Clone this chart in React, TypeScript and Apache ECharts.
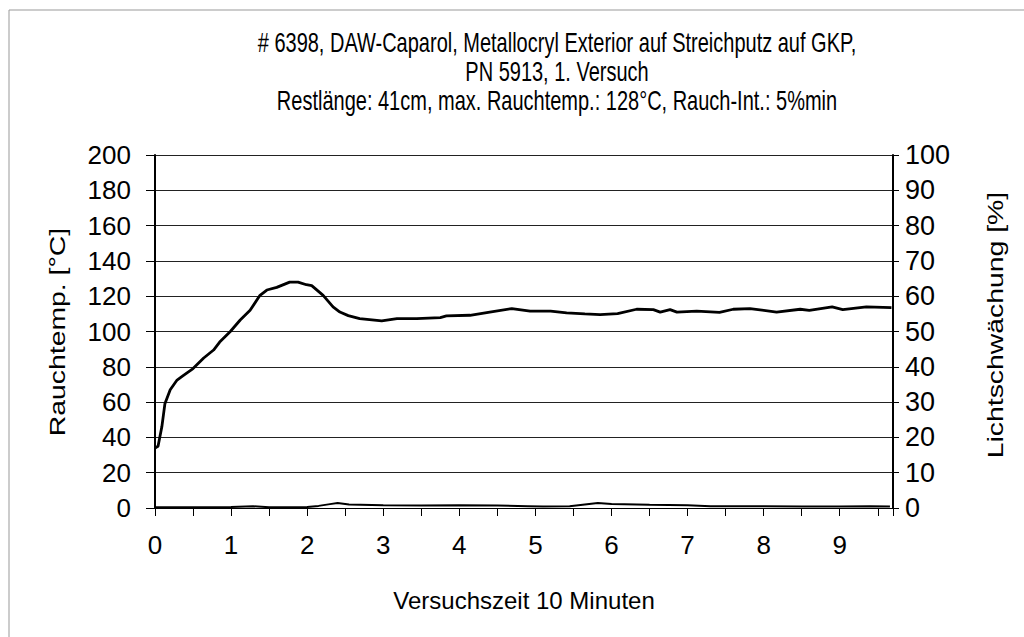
import React, { useEffect, useRef } from "react";
import * as echarts from "echarts";

const titleLines = [
  "# 6398, DAW-Caparol, Metallocryl Exterior auf Streichputz auf GKP,",
  "PN 5913, 1. Versuch",
  "Restlänge: 41cm, max. Rauchtemp.: 128°C, Rauch-Int.: 5%min",
];
const xAxisTitle = "Versuchszeit 10 Minuten";
const leftAxisTitle = "Rauchtemp. [°C]";
const rightAxisTitle = "Lichtschwächung [%]";

// Rauchtemperatur (°C) over time (minutes)
const tempTime = [
  0, 0.04, 0.09, 0.13, 0.2, 0.29, 0.37, 0.5, 0.64, 0.77, 0.85, 0.99, 1.12, 1.25, 1.38, 1.47, 1.6, 1.77,
  1.88, 1.99, 2.06, 2.21, 2.34, 2.43, 2.54, 2.69, 2.98, 3.18, 3.44, 3.75, 3.83, 4.14, 4.4, 4.69, 4.93,
  5.2, 5.41, 5.65, 5.85, 6.08, 6.33, 6.55, 6.64, 6.77, 6.86, 7.12, 7.42, 7.6, 7.82, 8.17, 8.48, 8.6,
  8.9, 9.04, 9.35, 9.68,
];
const tempValues = [
  34, 35, 46, 59, 67, 72.5, 75, 79, 85, 89.5, 94, 100, 106.5, 112, 120.5, 123.5, 125, 128, 128, 126.5,
  126, 120.5, 114, 111, 109, 107.3, 106, 107.3, 107.3, 107.9, 108.8, 109.2, 111, 113, 111.5, 111.5,
  110.5, 110, 109.6, 110.1, 112.6, 112.4, 111, 112.4, 111, 111.6, 110.8, 112.6, 113, 111, 112.6, 112,
  113.9, 112.4, 113.9, 113.5,
];

// Lichtschwächung (%) over time (minutes)
const lightTime = [
  0, 0.5, 1.0, 1.29, 1.5, 2.0, 2.15, 2.3, 2.4, 2.55, 3.0, 3.5, 4.0, 4.5, 4.9, 5.1, 5.45, 5.65, 5.82,
  6.0, 6.5, 7.0, 7.3, 8.0, 8.5, 9.0, 9.4, 9.66,
];
const lightValues = [
  0.2, 0.2, 0.3, 0.5, 0.2, 0.3, 0.6, 1.1, 1.4, 1.0, 0.8, 0.7, 0.8, 0.7, 0.5, 0.4, 0.5, 1.0, 1.4, 1.1,
  0.9, 0.8, 0.5, 0.5, 0.4, 0.4, 0.5, 0.4,
];

const FONT = "'Liberation Sans', Arial, sans-serif";

export default function App() {
  const ref = useRef<HTMLDivElement>(null);

  useEffect(() => {
    if (!ref.current) return;
    const chart = echarts.init(ref.current, undefined, { renderer: "svg" });
    const titleY = [42, 71, 100];
    const option = {
      animation: false,
      backgroundColor: "#ffffff",
      grid: { left: 155, right: 131, top: 155, bottom: 129, containLabel: false },
      xAxis: {
        type: "value",
        min: 0,
        max: 9.7,
        interval: 0.5,
        name: xAxisTitle,
        nameLocation: "middle",
        nameGap: 80,
        nameTextStyle: { fontFamily: FONT, fontSize: 24, color: "#000" },
        axisLine: { show: true, lineStyle: { color: "#000", width: 1 } },
        axisTick: { show: true, length: 8, lineStyle: { color: "#000", width: 1 } },
        axisLabel: {
          margin: 24,
          fontFamily: FONT,
          fontSize: 26,
          color: "#000",
          formatter: (v: number) => (Math.abs(v - Math.round(v)) < 1e-6 ? String(Math.round(v)) : ""),
        },
        splitLine: { show: false },
      },
      yAxis: [
        {
          type: "value",
          min: 0,
          max: 200,
          interval: 20,
          position: "left",
          axisLine: { show: true, lineStyle: { color: "#000", width: 2 } },
          axisTick: { show: true, length: 9, lineStyle: { color: "#000", width: 1 } },
          axisLabel: { margin: 24, fontFamily: FONT, fontSize: 26, color: "#000" },
          splitLine: { show: true, lineStyle: { color: "#222", width: 1 } },
        },
        {
          type: "value",
          min: 0,
          max: 100,
          interval: 10,
          position: "right",
          axisLine: { show: true, lineStyle: { color: "#000", width: 2 } },
          axisTick: { show: true, length: 6, lineStyle: { color: "#000", width: 1 } },
          axisLabel: { margin: 12, fontFamily: FONT, fontSize: 27, color: "#000" },
          splitLine: { show: false },
        },
      ],
      graphic: [
        {
          type: "line",
          shape: { x1: 9, y1: 10, x2: 1030, y2: 10 },
          style: { stroke: "#999", lineWidth: 1 },
          silent: true,
        },
        {
          type: "line",
          shape: { x1: 9, y1: 10, x2: 9, y2: 640 },
          style: { stroke: "#999", lineWidth: 1 },
          silent: true,
        },
        ...titleLines.map((line, i) => ({
          type: "text",
          x: 557,
          y: titleY[i],
          scaleY: 1.35,
          style: {
            text: line,
            font: `20px ${FONT}`,
            fill: "#000",
            textAlign: "center",
            textVerticalAlign: "middle",
          },
        })),
        {
          type: "text",
          x: 57,
          y: 332,
          rotation: Math.PI / 2,
          scaleX: 1.29,
          style: {
            text: leftAxisTitle,
            font: `22px ${FONT}`,
            fill: "#000",
            textAlign: "center",
            textVerticalAlign: "middle",
          },
        },
        {
          type: "text",
          x: 995,
          y: 325,
          rotation: Math.PI / 2,
          scaleX: 1.29,
          style: {
            text: rightAxisTitle,
            font: `22px ${FONT}`,
            fill: "#000",
            textAlign: "center",
            textVerticalAlign: "middle",
          },
        },
      ],
      series: [
        {
          name: "Rauchtemp.",
          type: "line",
          yAxisIndex: 0,
          data: tempTime.map((t, i) => [t, tempValues[i]]),
          showSymbol: false,
          smooth: false,
          lineStyle: { color: "#000", width: 2.8 },
        },
        {
          name: "Lichtschwächung",
          type: "line",
          yAxisIndex: 1,
          data: lightTime.map((t, i) => [t, lightValues[i]]),
          showSymbol: false,
          smooth: false,
          lineStyle: { color: "#000", width: 2 },
        },
      ],
    };
    chart.setOption(option as any);
    return () => chart.dispose();
  }, []);

  return (
    <div
      ref={ref}
      style={{ position: "fixed", left: 0, top: 0, width: 1024, height: 637, background: "#fff" }}
    />
  );
}
